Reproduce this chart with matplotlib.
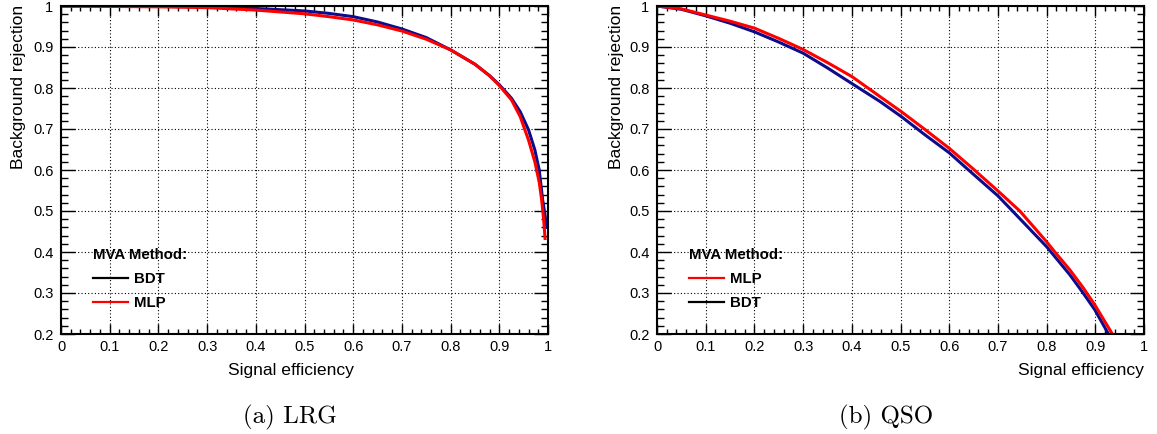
import matplotlib
matplotlib.use("Agg")
import matplotlib.pyplot as plt
from matplotlib.lines import Line2D
from matplotlib.ticker import MultipleLocator, FuncFormatter

plt.rcParams['font.family'] = ['Liberation Sans', 'DejaVu Sans']

# ---------------- data ----------------
lrg_bdt_eff = [0.0, 0.1, 0.2, 0.3, 0.4, 0.5, 0.55, 0.6, 0.65, 0.7, 0.75, 0.8, 0.85, 0.88, 0.9, 0.925, 0.943, 0.96, 0.973, 0.982, 0.989, 0.994, 0.997]
lrg_bdt_rej = [1.0, 1.0, 0.999, 0.998, 0.994, 0.988, 0.982, 0.974, 0.961, 0.944, 0.923, 0.893, 0.858, 0.830, 0.808, 0.775, 0.742, 0.698, 0.649, 0.600, 0.527, 0.49, 0.46]
lrg_mlp_eff = [0.0, 0.1, 0.2, 0.3, 0.4, 0.5, 0.55, 0.6, 0.65, 0.7, 0.75, 0.8, 0.85, 0.88, 0.9, 0.925, 0.943, 0.96, 0.973, 0.982, 0.987, 0.991, 0.994]
lrg_mlp_rej = [1.0, 0.999, 0.998, 0.996, 0.990, 0.981, 0.974, 0.966, 0.954, 0.939, 0.919, 0.893, 0.858, 0.830, 0.806, 0.771, 0.730, 0.673, 0.620, 0.570, 0.527, 0.48, 0.433]

qso_mlp_eff = [0.0, 0.05, 0.1, 0.15, 0.2, 0.25, 0.3, 0.35, 0.4, 0.458, 0.502, 0.55, 0.6, 0.646, 0.7, 0.745, 0.8, 0.817, 0.848, 0.875, 0.899, 0.935]
qso_mlp_rej = [1.0, 0.993, 0.978, 0.963, 0.946, 0.921, 0.894, 0.862, 0.828, 0.779, 0.742, 0.699, 0.653, 0.606, 0.549, 0.500, 0.425, 0.400, 0.356, 0.313, 0.271, 0.2]
qso_bdt_eff = [0.0, 0.05, 0.1, 0.15, 0.2, 0.25, 0.3, 0.35, 0.4, 0.458, 0.502, 0.55, 0.6, 0.634, 0.7, 0.73, 0.8, 0.848, 0.875, 0.899, 0.927]
qso_bdt_rej = [1.0, 0.992, 0.976, 0.958, 0.937, 0.912, 0.885, 0.849, 0.811, 0.767, 0.730, 0.686, 0.642, 0.606, 0.537, 0.500, 0.413, 0.344, 0.300, 0.259, 0.2]

x_label = "Signal efficiency"
y_label = "Background rejection"
legend_title = "MVA Method:"
captions = ["(a) LRG", "(b) QSO"]

BLUE = '#0c0c8c'
RED = '#ff0000'

W, H = 1157, 434
fig = plt.figure(figsize=(W / 100, H / 100), dpi=100)

def px_axes(l, r, t, b):
    return fig.add_axes([l / W, 1 - b / H, (r - l) / W, (b - t) / H])

fmt = FuncFormatter(lambda v, p: ('%g' % round(v, 3)))

def style(ax):
    ax.set_xlim(0, 1)
    ax.set_ylim(0.2, 1)
    ax.xaxis.set_major_locator(MultipleLocator(0.1))
    ax.xaxis.set_minor_locator(MultipleLocator(0.02))
    ax.yaxis.set_major_locator(MultipleLocator(0.1))
    ax.yaxis.set_minor_locator(MultipleLocator(0.02))
    ax.xaxis.set_major_formatter(fmt)
    ax.yaxis.set_major_formatter(fmt)
    for s in ax.spines.values():
        s.set_linewidth(1.5)
        s.set_color('black')
    ax.tick_params(which='both', direction='in', top=True, right=True, width=1.0, colors='black')
    ax.tick_params(axis='x', which='major', length=7, pad=4.5, labelsize=10.5)
    ax.tick_params(axis='x', which='minor', length=3.5)
    ax.tick_params(axis='y', which='major', length=10, pad=5.5, labelsize=10.5)
    ax.tick_params(axis='y', which='minor', length=5)
    ax.grid(True, which='major', color='black', linestyle=(0, (1, 2)), linewidth=0.8)
    ax.set_axisbelow(True)

LEG = dict(loc='upper left', frameon=False, borderpad=0, borderaxespad=0, handlelength=2.35,
           handletextpad=0.4, labelspacing=0.68, alignment='left',
           prop={'weight': 'bold', 'size': 10.8},
           title_fontproperties={'weight': 'bold', 'size': 10.8})

# ---------- left panel (LRG) ----------
ax1 = px_axes(61, 548, 6, 334)
style(ax1)
ax1.plot(lrg_bdt_eff, lrg_bdt_rej, color=BLUE, lw=2.2, solid_joinstyle='round')
ax1.plot(lrg_mlp_eff, lrg_mlp_rej, color=RED, lw=2.2, solid_joinstyle='round')
h1 = [Line2D([], [], color='black', lw=1.6), Line2D([], [], color=RED, lw=1.6)]
ax1.legend(h1, ["BDT", "MLP"], title=legend_title,
           bbox_to_anchor=((93 - 61) / 487, (334 - 248) / 328), **LEG)

# ---------- right panel (QSO) ----------
ax2 = px_axes(657, 1144, 6, 334)
style(ax2)
ax2.plot(qso_bdt_eff, qso_bdt_rej, color=BLUE, lw=2.2, solid_joinstyle='round')
ax2.plot(qso_mlp_eff, qso_mlp_rej, color=RED, lw=2.2, solid_joinstyle='round')
h2 = [Line2D([], [], color=RED, lw=1.6), Line2D([], [], color='black', lw=1.6)]
ax2.legend(h2, ["MLP", "BDT"], title=legend_title,
           bbox_to_anchor=((689 - 657) / 487, (334 - 248) / 328), **LEG)

# axis titles (ROOT style)
fig.text(290.5 / W, 1 - 375 / H, x_label, ha='center', va='baseline', fontsize=12.6)
fig.text(1144 / W, 1 - 375 / H, x_label, ha='right', va='baseline', fontsize=12.6)
fig.text(19 / W, 1 - 5 / H, y_label, ha='center', va='top', rotation=90, fontsize=12.6)
fig.text(616 / W, 1 - 5 / H, y_label, ha='center', va='top', rotation=90, fontsize=12.6)

# captions
fig.text(289.5 / W, 1 - 423 / H, captions[0], ha='center', va='baseline', fontsize=18, family='cmr10')
fig.text(886 / W, 1 - 423 / H, captions[1], ha='center', va='baseline', fontsize=18, family='cmr10')

fig.savefig("out.png", dpi=100)
